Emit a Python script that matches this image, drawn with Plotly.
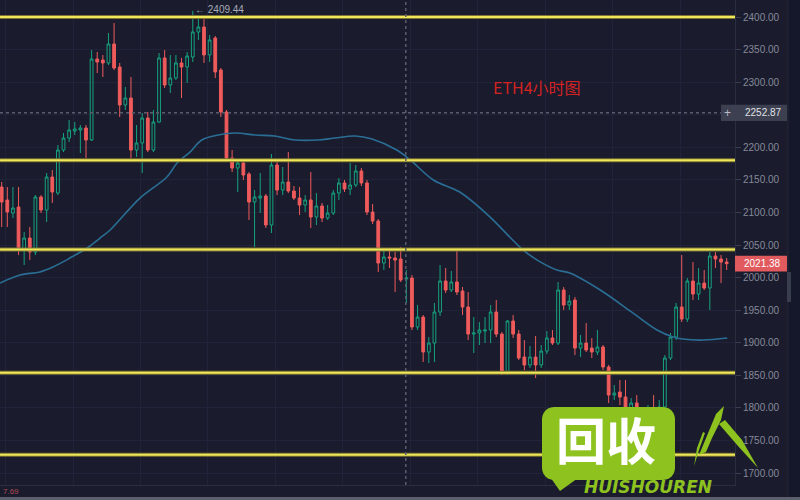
import math
import plotly.graph_objects as go

# ---------------- data ----------------
opens = [2139.0, 2119.1, 2099.1, 2108.3, 2042.3, 2060.7, 2039.2, 2123.7, 2103.7, 2154.4,
         2129.8, 2195.8, 2214.2, 2225.0, 2226.5, 2229.6, 2211.2, 2335.5, 2334.0, 2329.4,
         2358.6, 2323.2, 2264.9, 2275.6, 2195.8, 2206.6, 2244.9, 2195.8, 2238.8, 2337.1,
         2295.6, 2306.3, 2329.4, 2323.2, 2338.6, 2377.0, 2384.6, 2341.7, 2367.8, 2318.6,
         2254.2, 2183.5, 2168.2, 2175.8, 2159.0, 2116.0, 2122.1, 2125.2, 2080.7, 2172.8,
         2134.4, 2146.7, 2132.9, 2122.1, 2111.4, 2119.1, 2093.0, 2109.9, 2091.4, 2099.1,
         2129.8, 2145.2, 2135.9, 2142.1, 2163.6, 2145.2, 2100.6, 2086.8, 2022.3, 2031.6,
         2030.0, 2028.5, 1997.8, 1999.3, 1924.1, 1939.4, 1885.7, 1899.5, 1947.1, 1994.7,
         1980.9, 1993.2, 1979.4, 1954.8, 1913.3, 1914.9, 1917.9, 1919.5, 1947.1, 1913.3,
         1853.5, 1933.3, 1913.3, 1878.0, 1865.8, 1878.0, 1865.8, 1887.2, 1907.2, 1899.5,
         1980.9, 1957.9, 1965.5, 1891.8, 1899.5, 1891.8, 1885.7, 1893.4, 1862.7, 1819.7,
         1824.3, 1816.6, 1796.7, 1807.4, 1784.4, 1769.0, 1789.0, 1773.7, 1801.3, 1876.5,
         1908.7, 1954.8, 1936.4, 1994.7, 1974.8, 1991.6, 1984.0, 2033.1, 2028.5, 2023.9]
highs = [2146.7, 2139.0, 2139.0, 2139.0, 2069.9, 2077.6, 2126.7, 2126.7, 2160.5, 2165.1,
         2203.5, 2221.9, 2241.9, 2238.8, 2234.2, 2234.2, 2349.3, 2346.3, 2341.7, 2375.4,
         2390.8, 2329.4, 2292.5, 2307.9, 2234.2, 2252.6, 2254.2, 2257.2, 2344.7, 2349.3,
         2341.7, 2341.7, 2337.1, 2346.3, 2409.44, 2398.5, 2400.0, 2372.4, 2370.8, 2321.7,
         2257.2, 2195.8, 2180.5, 2180.5, 2162.0, 2134.4, 2160.5, 2128.3, 2189.7, 2180.5,
         2169.7, 2192.7, 2140.6, 2139.0, 2126.7, 2162.0, 2129.8, 2114.5, 2111.4, 2134.4,
         2152.8, 2149.8, 2175.8, 2172.8, 2168.2, 2149.8, 2112.9, 2089.9, 2042.3, 2042.3,
         2039.2, 2046.9, 2011.6, 2003.9, 1957.9, 1942.5, 1908.7, 1960.9, 2019.3, 2014.7,
         2010.1, 2042.3, 1985.5, 1977.8, 1939.4, 1931.8, 1939.4, 1957.9, 1965.5, 1916.4,
         1934.8, 1942.5, 1919.5, 1904.1, 1894.9, 1910.3, 1896.5, 1917.9, 1919.5, 1993.2,
         1985.5, 1973.2, 1970.1, 1911.8, 1930.2, 1907.2, 1919.5, 1896.5, 1865.8, 1835.0,
         1842.7, 1842.7, 1815.1, 1819.7, 1793.6, 1804.3, 1819.7, 1812.0, 1881.1, 1914.9,
         1960.9, 2034.6, 1999.3, 2023.9, 2014.7, 2011.6, 2039.2, 2039.2, 2034.6, 2030.0]
lows = [2077.6, 2077.6, 2091.4, 2034.6, 2019.3, 2026.9, 2034.6, 2099.1, 2085.3, 2114.5,
        2126.7, 2192.7, 2208.1, 2218.8, 2191.2, 2183.5, 2209.6, 2314.0, 2307.9, 2326.3,
        2318.6, 2246.5, 2257.2, 2183.5, 2185.1, 2160.5, 2192.7, 2192.7, 2237.3, 2291.0,
        2283.3, 2303.3, 2275.6, 2298.7, 2330.9, 2364.7, 2329.4, 2330.9, 2306.3, 2246.5,
        2180.5, 2162.0, 2131.3, 2149.8, 2088.4, 2046.9, 2099.1, 2076.1, 2068.4, 2126.7,
        2126.7, 2129.8, 2119.1, 2096.0, 2100.6, 2076.1, 2080.7, 2085.3, 2088.4, 2096.0,
        2119.1, 2131.3, 2126.7, 2139.0, 2140.6, 2096.0, 2082.2, 2008.5, 2011.6, 2014.7,
        1977.8, 1993.2, 1960.9, 1919.5, 1919.5, 1870.4, 1868.8, 1870.4, 1941.0, 1976.3,
        1977.8, 1973.2, 1942.5, 1904.1, 1884.2, 1896.5, 1899.5, 1899.5, 1908.7, 1850.4,
        1850.4, 1907.2, 1873.4, 1858.1, 1861.2, 1845.8, 1861.2, 1882.6, 1896.5, 1896.5,
        1950.2, 1950.2, 1881.1, 1878.0, 1885.7, 1876.5, 1881.1, 1858.1, 1807.4, 1812.0,
        1804.3, 1793.6, 1789.0, 1778.2, 1758.3, 1762.9, 1766.0, 1766.0, 1796.7, 1873.4,
        1904.1, 1931.8, 1931.8, 1965.5, 1965.5, 1980.9, 1950.2, 2014.7, 1991.6, 2011.6]
closes = [2116.0, 2100.6, 2106.8, 2042.3, 2060.7, 2039.2, 2123.7, 2103.7, 2154.4, 2131.3,
          2195.8, 2214.2, 2226.5, 2228.1, 2229.6, 2211.2, 2335.5, 2330.9, 2329.4, 2358.6,
          2321.7, 2264.9, 2275.6, 2195.8, 2206.6, 2244.9, 2195.8, 2238.8, 2337.1, 2295.6,
          2306.3, 2329.4, 2323.2, 2340.1, 2377.0, 2384.6, 2341.7, 2364.7, 2315.6, 2254.2,
          2183.5, 2168.2, 2175.8, 2157.4, 2116.0, 2123.7, 2125.2, 2080.7, 2172.8, 2134.4,
          2146.7, 2132.9, 2122.1, 2111.4, 2119.1, 2093.0, 2109.9, 2091.4, 2099.1, 2129.8,
          2145.2, 2135.9, 2142.1, 2163.6, 2145.2, 2100.6, 2086.8, 2022.3, 2031.6, 2030.0,
          2026.9, 1996.2, 1999.3, 1924.1, 1939.4, 1885.7, 1899.5, 1947.1, 1994.7, 1980.9,
          1993.2, 1977.8, 1954.8, 1913.3, 1914.9, 1919.5, 1919.5, 1947.1, 1913.3, 1853.5,
          1933.3, 1913.3, 1876.5, 1865.8, 1878.0, 1865.8, 1887.2, 1907.2, 1899.5, 1980.9,
          1957.9, 1964.0, 1891.8, 1899.5, 1888.8, 1885.7, 1893.4, 1862.7, 1819.7, 1822.8,
          1816.6, 1801.3, 1807.4, 1784.4, 1769.0, 1789.0, 1773.7, 1801.3, 1876.5, 1908.7,
          1954.8, 1936.4, 1994.7, 1974.8, 1991.6, 1984.0, 2033.1, 2028.5, 2023.9, 2021.38]
bars = list(range(len(opens)))

# moving average line (bar position, price)
ma_x = [-0.3, 3.26, 6.81, 9.13, 12.15, 15.2, 17.5, 19.3, 24.6, 29.4, 31.2, 33.5, 35.6, 38.5,
        41.5, 45.1, 48.6, 52.2, 56.3, 59.3, 62.9, 65.9, 70.3, 72.7, 76.8, 81.5, 86.9, 90.4,
        92.8, 95.3, 98.8, 101.1, 106.5, 112.3, 116.6, 119.5, 121.2, 124.8, 129.1]
ma_y = [1991.6, 2003.9, 2008.5, 2016.2, 2030.0, 2045.4, 2060.7, 2073.0, 2122.1, 2154.4,
        2175.8, 2192.7, 2211.2, 2218.8, 2221.9, 2218.8, 2217.3, 2211.2, 2211.2, 2214.2,
        2217.3, 2212.7, 2195.8, 2180.5, 2149.8, 2131.3, 2092.9, 2062.3, 2042.3, 2026.9,
        2011.6, 2007.0, 1980.9, 1945.7, 1919.5, 1908.7, 1905.6, 1904.1, 1907.2]

levels = [2400, 2180, 2043, 1854, 1728]          # yellow support/resistance lines
tick_vals = list(range(1700, 2401, 50))
tick_text = ["" if v == 2250 else f"{v:.2f}" for v in tick_vals]   # 2250 hidden by crosshair label
crosshair_price = 2252.87
crosshair_bar = 71.9
last_price = closes[-1]
max_price = max(highs)
title_text = "ETH4小时图"
corner_text = "7.69"

# ---------------- styling ----------------
W, H = 800, 500
BG = "#1a1c2d"
GREEN = "#16a27e"
RED = "#ef5b5b"
YELLOW = "#efe65a"
PLOT_R = 735   # px
PLOT_B = 485   # px


def px(x):
    return x / W


def py(y):
    return 1 - y / H


def path(pts):
    return "M " + " L ".join(f"{px(x):.5f},{py(y):.5f}" for x, y in pts) + " Z"


def rounded_rect(x0, y0, x1, y1, r, n=6):
    pts = []
    corners = [(x1 - r, y0 + r, -90), (x1 - r, y1 - r, 0), (x0 + r, y1 - r, 90), (x0 + r, y0 + r, 180)]
    for cx, cy, a0 in corners:
        for k in range(n + 1):
            a = math.radians(a0 + 90 * k / n)
            pts.append((cx + r * math.cos(a), cy + r * math.sin(a)))
    return pts


fig = go.Figure()

fig.add_trace(go.Scatter(x=ma_x, y=ma_y, mode="lines",
                         line=dict(color="#2b6e95", width=1.6, shape="spline"),
                         hoverinfo="skip", showlegend=False))

fig.add_trace(go.Candlestick(
    x=bars, open=opens, high=highs, low=lows, close=closes,
    increasing=dict(line=dict(color=GREEN, width=1), fillcolor="rgba(0,0,0,0)"),
    decreasing=dict(line=dict(color=RED, width=1), fillcolor=RED),
    hoverinfo="skip", showlegend=False))

shapes = []
# right strip
shapes.append(dict(type="rect", xref="paper", yref="paper", x0=px(788), x1=1, y0=0, y1=1,
                   fillcolor="#15172a", line=dict(width=0), layer="below"))
shapes.append(dict(type="line", xref="paper", yref="paper", x0=px(788), x1=px(788), y0=0, y1=1,
                   line=dict(color="#262939", width=1)))
shapes.append(dict(type="rect", xref="paper", yref="paper", x0=px(787), x1=px(791),
                   y0=py(302), y1=py(272), fillcolor="#3a3d4e", line=dict(width=0)))
# bottom bar
shapes.append(dict(type="rect", xref="paper", yref="paper", x0=0, x1=1, y0=0, y1=py(497),
                   fillcolor="#5c5f6e", line=dict(width=0)))

# yellow horizontal levels
for lv in levels:
    shapes.append(dict(type="line", xref="x domain", yref="y", x0=0, x1=1, y0=lv, y1=lv,
                       line=dict(color="#7c7632", width=4), layer="above"))
    shapes.append(dict(type="line", xref="x domain", yref="y", x0=0, x1=1, y0=lv, y1=lv,
                       line=dict(color=YELLOW, width=2), layer="above"))

# crosshair
shapes.append(dict(type="line", xref="x domain", yref="y", x0=0, x1=1,
                   y0=crosshair_price, y1=crosshair_price,
                   line=dict(color="#5a5d6d", width=1.5, dash="dot"), layer="above"))
shapes.append(dict(type="line", xref="x", yref="y domain", x0=crosshair_bar, x1=crosshair_bar,
                   y0=0, y1=1, line=dict(color="#5a5d6d", width=1.5, dash="dot"), layer="above"))

# price boxes on axis
shapes.append(dict(type="rect", xref="paper", yref="y", x0=px(721), x1=px(787),
                   y0=crosshair_price - 12.5, y1=crosshair_price + 12.5,
                   fillcolor="#3d4051", line=dict(width=0), layer="above"))
shapes.append(dict(type="rect", xref="paper", yref="y", x0=px(735), x1=px(787),
                   y0=last_price - 12, y1=last_price + 12,
                   fillcolor="#e05a5e", line=dict(width=0), layer="above"))

# watermark logo
LOGO = "#8dc21f"
bubble = rounded_rect(542, 407, 675, 480, 12)
shapes.append(dict(type="path", xref="paper", yref="paper", path=path(bubble),
                   fillcolor=LOGO, line=dict(width=0), layer="above"))
shapes.append(dict(type="path", xref="paper", yref="paper",
                   path=path([(548, 474), (560, 491), (578, 478)]),
                   fillcolor=LOGO, line=dict(width=0), layer="above"))
shapes.append(dict(type="path", xref="paper", yref="paper",
                   path=path([(699, 455), (716, 414), (724, 406), (721, 420), (712, 438),
                              (706, 452)]),
                   fillcolor=LOGO, line=dict(width=0), layer="above"))
shapes.append(dict(type="path", xref="paper", yref="paper",
                   path=path([(719, 424), (725, 420), (742, 440), (758, 468), (738, 446)]),
                   fillcolor=LOGO, line=dict(width=0), layer="above"))
shapes.append(dict(type="path", xref="paper", yref="paper",
                   path=path([(694, 466), (697, 448), (703, 432), (705, 433), (699, 450)]),
                   fillcolor=LOGO, line=dict(width=0), layer="above"))

annotations = [
    dict(text=title_text, xref="paper", yref="paper", x=px(491), y=py(87), xanchor="left",
         yanchor="middle", showarrow=False,
         font=dict(family="Noto Sans CJK SC", size=16, color="#d42222")),
    dict(text=f"← {max_price:.2f}", xref="x", yref="paper", x=34.0, y=py(9),
         xanchor="left", yanchor="middle", showarrow=False,
         font=dict(family="Liberation Sans", size=10, color="#a9acb8")),
    dict(text="+", xref="paper", yref="y", x=px(727), y=crosshair_price, xanchor="center",
         yanchor="middle", showarrow=False,
         font=dict(family="Liberation Sans", size=12, color="#b8bbc6")),
    dict(text=f"{crosshair_price:.2f}", xref="paper", yref="y", x=px(763), y=crosshair_price,
         xanchor="center", yanchor="middle", showarrow=False,
         font=dict(family="Liberation Sans", size=10, color="#e0e2e8")),
    dict(text=f"{last_price:.2f}", xref="paper", yref="y", x=px(762), y=last_price,
         xanchor="center", yanchor="middle", showarrow=False,
         font=dict(family="Liberation Sans", size=10, color="#ffffff")),
    dict(text=corner_text, xref="paper", yref="paper", x=px(1), y=py(491), xanchor="left",
         yanchor="middle", showarrow=False,
         font=dict(family="Liberation Sans", size=8, color="#b04a50")),
    dict(text="<b>回收</b>", xref="paper", yref="paper", x=px(606), y=py(438),
         xanchor="center", yanchor="middle", showarrow=False,
         font=dict(family="Noto Sans CJK SC", size=50, color="#ffffff")),
    dict(text="<b><i>HUISHOUREN</i></b>", xref="paper", yref="paper", x=px(648), y=py(487),
         xanchor="center", yanchor="middle", showarrow=False,
         font=dict(family="DejaVu Sans", size=17, color=LOGO)),
]

fig.update_layout(
    width=W, height=H,
    margin=dict(l=0, r=0, t=0, b=0),
    paper_bgcolor=BG, plot_bgcolor=BG,
    showlegend=False,
    shapes=shapes, annotations=annotations,
    xaxis=dict(domain=[0, PLOT_R / W], range=[-0.3, 130.48], showticklabels=False,
               showgrid=True, gridcolor="#20233a", gridwidth=1, tick0=0.7, dtick=12,
               zeroline=False, showline=True, linecolor="#2a2d3e", ticks="",
               rangeslider=dict(visible=False), fixedrange=True),
    yaxis=dict(domain=[1 - PLOT_B / H, 1], range=[1681.6, 2426.1], side="right",
               tickvals=tick_vals, ticktext=tick_text, ticks="outside", ticklen=5,
               tickcolor="#3a3d4d", showgrid=True, gridcolor="#20233a", zeroline=False,
               showline=True, linecolor="#2a2d3e",
               tickfont=dict(family="Liberation Sans", size=10, color="#868999"),
               fixedrange=True),
)

fig.write_html("out.html", config={"displayModeBar": False},
               post_script="document.body.style.margin='0';document.body.style.background='#1a1c2d';")
